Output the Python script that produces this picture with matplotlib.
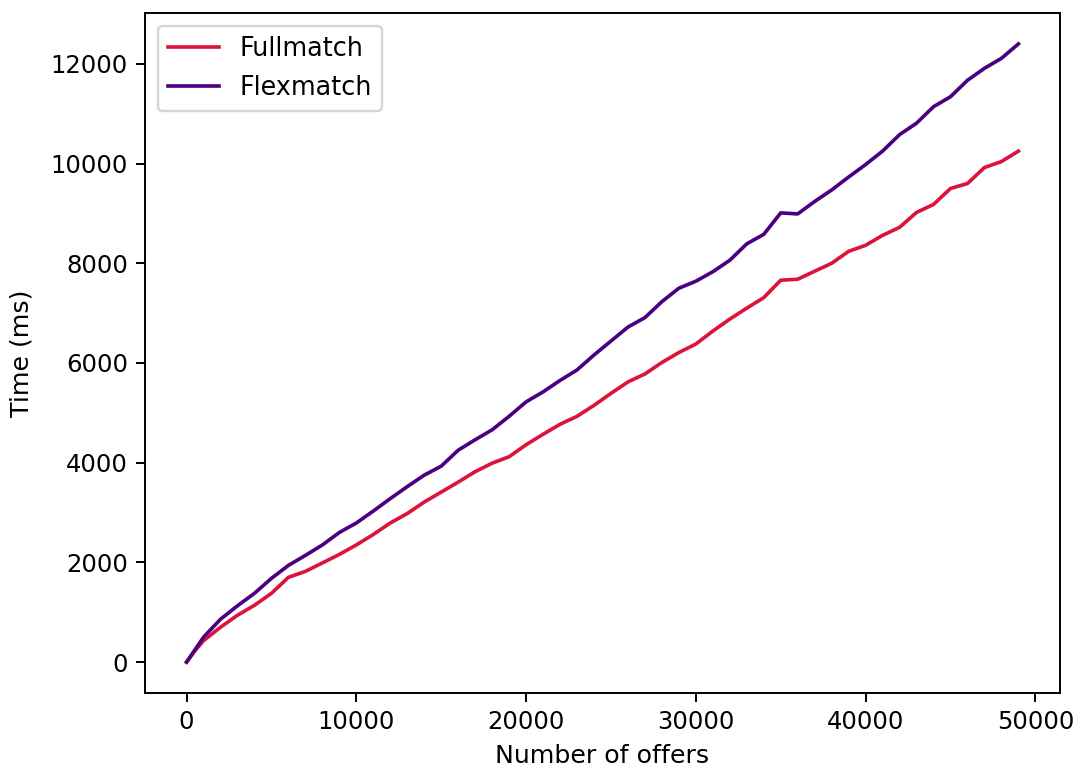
import matplotlib
matplotlib.use("Agg")
import matplotlib.pyplot as plt

offers = [0, 500] + list(range(1000, 50000, 1000))

fullmatch = [0, 230, 430, 700, 940, 1140, 1380, 1700, 1820, 1990, 2160, 2350, 2560,
             2790, 2980, 3210, 3410, 3610, 3820, 3990, 4120, 4360, 4570, 4770, 4930,
             5150, 5390, 5620, 5780, 6010, 6210, 6380, 6640, 6880, 7100, 7310, 7660,
             7680, 7840, 8000, 8240, 8360, 8560, 8720, 9020, 9180, 9500, 9600, 9920,
             10040, 10250]

flexmatch = [0, 250, 500, 860, 1130, 1380, 1680, 1940, 2140, 2350, 2600, 2790, 3030,
             3280, 3520, 3750, 3930, 4250, 4460, 4660, 4930, 5220, 5420, 5650, 5860,
             6160, 6440, 6720, 6910, 7230, 7500, 7640, 7830, 8060, 8390, 8580, 9010,
             8990, 9240, 9470, 9730, 9980, 10250, 10580, 10810, 11140, 11340, 11670,
             11910, 12110, 12400]

DPI = 175
fig, ax = plt.subplots(figsize=(1077/DPI, 769/DPI), dpi=DPI)
fig.subplots_adjust(left=0.1346, right=0.9842, top=0.9831, bottom=0.0988)

ax.plot(offers, fullmatch, color="#DC143C", linewidth=1.5, label="Fullmatch")
ax.plot(offers, flexmatch, color="#4B0082", linewidth=1.5, label="Flexmatch")

ax.set_xlabel("Number of offers", fontsize=10.4)
ax.set_ylabel("Time (ms)", fontsize=10.4, labelpad=7)
ax.legend(loc="upper left", fontsize=10.5)

fig.savefig("out.png", dpi=DPI)
